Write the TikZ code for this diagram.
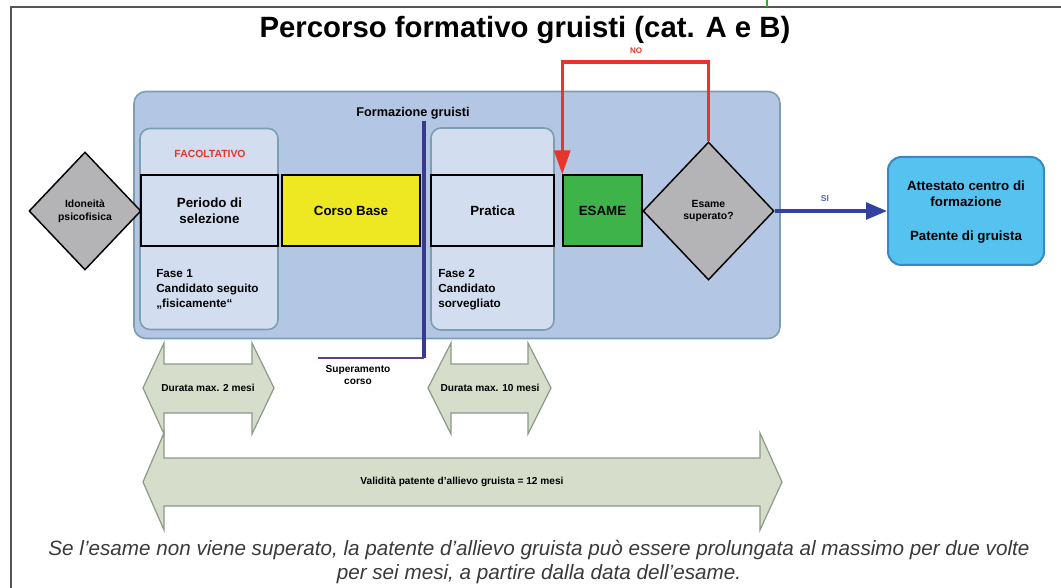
\documentclass[tikz,border=0pt]{standalone}
\usepackage{fontspec}
\setmainfont{Liberation Sans}
\usetikzlibrary{shapes.geometric,arrows.meta,calc}
\definecolor{bluebg}{HTML}{B3C6E3}
\definecolor{bluebd}{HTML}{7C9FB0}
\definecolor{innerbg}{HTML}{D2DEF0}
\definecolor{yel}{HTML}{EEE823}
\definecolor{grn}{HTML}{3DB34A}
\definecolor{dia}{HTML}{B4B4B6}
\definecolor{att}{HTML}{56C2F0}
\definecolor{attbd}{HTML}{3B88BE}
\definecolor{arrbg}{HTML}{D6DDCB}
\definecolor{arrbd}{HTML}{8C9A8A}
\definecolor{redl}{HTML}{E8352B}
\definecolor{bluel}{HTML}{3342A0}
\definecolor{purp}{HTML}{3A3A8C}
\definecolor{purp2}{HTML}{5B3F90}
\definecolor{capt}{HTML}{3A3A3A}
\definecolor{framec}{HTML}{555555}
\definecolor{greenl}{HTML}{3AAA35}
\tikzset{
  lbl/.style={font=\bfseries\fontsize{10}{12}\selectfont, align=center},
  stepbox/.style={draw=black, line width=1.1pt, rectangle, inner sep=0pt, lbl},
  roundbox/.style={draw=bluebd, line width=1.2pt, rounded corners=7.5pt, inner sep=0pt},
  decision/.style={diamond, draw=black, line width=1.1pt, fill=dia, inner sep=0pt, align=center,
     font=\bfseries\fontsize{7.8}{9.5}\selectfont},
  dblarrow/.style={draw=arrbd, fill=arrbg, line width=0.9pt, line join=miter},
  small/.style={font=\bfseries\fontsize{7.6}{9.5}\selectfont, align=center},
  fasetxt/.style={font=\bfseries\fontsize{8.8}{11.25}\selectfont, align=left, anchor=north west, inner sep=0pt}
}
\begin{document}
\begin{tikzpicture}[x=0.75pt,y=-0.75pt]
\useasboundingbox[fill=white] (0,0) rectangle (1061,588);
% frame
\draw[framec, line width=1.3pt] (1061,7) -- (11,7) -- (11,588);
\draw[greenl, line width=1pt] (767,0) -- (767,7);
% title
\node[font=\bfseries\fontsize{22}{24}\selectfont, anchor=base] (title) at (525,38) {Percorso formativo gruisti (cat. A e B)};

% big blue container
\node[roundbox, fill=bluebg, rounded corners=9pt, minimum width=484.5pt, minimum height=185.25pt] (main) at (457,215) {};
\node[font=\bfseries\fontsize{9.5}{11}\selectfont] (formtxt) at (413,113) {Formazione gruisti};

% inner rounded boxes
\node[roundbox, fill=innerbg, minimum width=103.5pt, minimum height=150.75pt] (fase1) at (209,229) {};
\node[roundbox, fill=innerbg, minimum width=92.25pt, minimum height=151.5pt] (fase2) at (492.5,229) {};

\node[font=\bfseries\fontsize{7.8}{9}\selectfont, text=redl] (facolt) at (210,154) {FACOLTATIVO};

% step boxes
\node[stepbox, fill=innerbg, minimum width=102.75pt, minimum height=53.25pt] (periodo) at (209.5,210.5) {Periodo di\\selezione};
\node[stepbox, fill=yel, minimum width=103.5pt, minimum height=53.25pt] (corso) at (351,210.5) {Corso Base};
\node[stepbox, fill=innerbg, minimum width=92.25pt, minimum height=53.25pt] (pratica) at (492.5,210.5) {Pratica};
\node[stepbox, fill=grn, minimum width=59.25pt, minimum height=53.25pt] (esame) at (602.5,210.5) {ESAME};

\node[fasetxt] (f1txt) at (156,269) {Fase 1\\Candidato seguito\\„fisicamente“};
\node[fasetxt] (f2txt) at (438,269) {Fase 2\\Candidato\\sorvegliato};

% decisions
\node[decision, minimum width=84pt, minimum height=88.5pt] (idon) at (85,211) {Idoneità\\psicofisica};
\node[decision, minimum width=98.25pt, minimum height=103.5pt] (esup) at (708.5,211) {Esame\\superato?};

% final box
\node[draw=attbd, line width=1.5pt, fill=att, rounded corners=10pt, minimum width=117pt, minimum height=81pt, inner sep=0pt] (attest) at (966,211) {};
\node[lbl] (atttxt1) at (966,193.5) {Attestato centro di\\formazione};
\node[lbl] (atttxt2) at (966,237) {Patente di gruista};

% SI arrow
\draw[bluel, line width=2.8pt, -{Triangle[length=15.75pt, width=12.5pt]}] (esup.east) -- (attest.west);
\node[font=\bfseries\fontsize{6.5}{8}\selectfont, text=bluel!80] (si) at (825,199) {SI};

% NO loop
\coordinate (notop) at (708.5,62);
\draw[redl, line width=2.4pt, -{Triangle[length=18pt, width=12pt]}] (esup.north) -- (notop) -| (esame.north west);
\node[font=\bfseries\fontsize{6}{7}\selectfont, text=redl] (no) at (636,51) {NO};

% Superamento corso line
\coordinate (suptop) at (424,121);
\coordinate (supcorner) at (424,358);
\coordinate (supend) at (318,358);
\draw[purp, line width=2.4pt] (suptop) -- (supcorner);
\draw[purp2, line width=1.6pt] (supcorner) -- (supend);
\node[small] (suptxt) at (358,375) {Superamento\\corso};

% double arrows
\draw[dblarrow] (143,482) -- (164,433) -- (164,458) -- (760,458) -- (760,433) -- (782,482) -- (760,530) -- (760,506) -- (164,506) -- (164,530) -- cycle;
\node[small] (valid) at (462,482) {Validità patente d'allievo gruista = 12 mesi};

\draw[dblarrow] (143,388) -- (164,343) -- (164,364) -- (252,364) -- (252,343) -- (274,388) -- (252,434) -- (252,413) -- (164,413) -- (164,434) -- cycle;
\node[small] (dur1) at (208,388) {Durata max. 2 mesi};

\draw[dblarrow] (428,388) -- (451,343) -- (451,364) -- (528,364) -- (528,343) -- (551,388) -- (528,434) -- (528,413) -- (451,413) -- (451,434) -- cycle;
\node[small] (dur2) at (490,388) {Durata max. 10 mesi};

% caption
\node[font=\itshape\fontsize{15.5}{18.5}\selectfont, text=capt, align=center] (caption) at (539,562) {Se l’esame non viene superato, la patente d’allievo gruista può essere prolungata al massimo per due volte\\per sei mesi, a partire dalla data dell’esame.};
\end{tikzpicture}
\end{document}
